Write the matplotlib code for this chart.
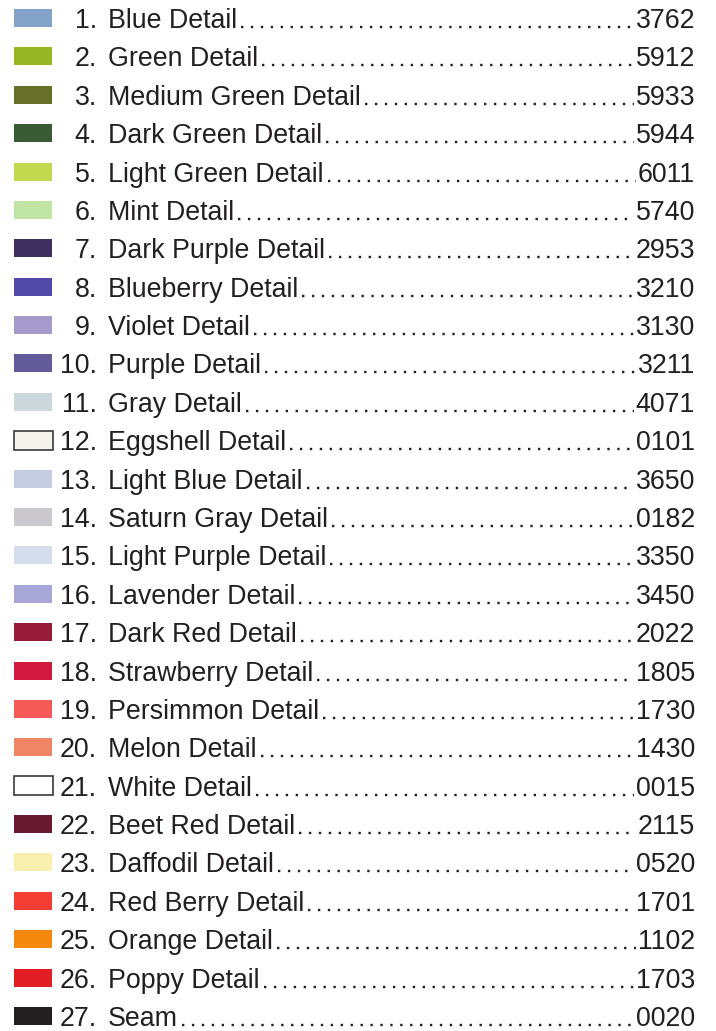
"""Color key list with swatches, names and thread codes."""

import matplotlib

matplotlib.use("Agg")

import matplotlib.pyplot as plt
from matplotlib.patches import Rectangle

names = [
    "Blue Detail", "Green Detail", "Medium Green Detail", "Dark Green Detail",
    "Light Green Detail", "Mint Detail", "Dark Purple Detail", "Blueberry Detail",
    "Violet Detail", "Purple Detail", "Gray Detail", "Eggshell Detail",
    "Light Blue Detail", "Saturn Gray Detail", "Light Purple Detail",
    "Lavender Detail", "Dark Red Detail", "Strawberry Detail", "Persimmon Detail",
    "Melon Detail", "White Detail", "Beet Red Detail", "Daffodil Detail",
    "Red Berry Detail", "Orange Detail", "Poppy Detail", "Seam",
]
codes = [
    "3762", "5912", "5933", "5944", "6011", "5740", "2953", "3210", "3130",
    "3211", "4071", "0101", "3650", "0182", "3350", "3450", "2022", "1805",
    "1730", "1430", "0015", "2115", "0520", "1701", "1102", "1703", "0020",
]
swatch_colors = [
    "#84a3c9", "#97b624", "#66702a", "#3a5a35", "#c2d94f", "#c0e4a4",
    "#3f2f60", "#5249a8", "#a59acb", "#635a9a", "#cdd8dd", "#f4f3ee",
    "#c4cce0", "#cbc8ce", "#d5dcec", "#a9a6d8", "#961c3a", "#d1193f",
    "#f65a56", "#f08466", "#ffffff", "#6a1a30", "#f8eeb0", "#f33e36",
    "#f5890f", "#e11e23", "#231f20",
]
outlined = {12, 21}

W, H = 716, 1031
TEXT = "#231f20"
FONT = ["Liberation Sans", "DejaVu Sans"]


def main() -> None:
    fig = plt.figure(figsize=(W / 100, H / 100), dpi=100)
    ax = fig.add_axes([0, 0, 1, 1])
    ax.set_xlim(0, W)
    ax.set_ylim(H, 0)
    ax.axis("off")

    pitch = (1016 - 18) / 26
    fs = 19.3
    name_texts = []
    code_texts = []
    rows = []
    for i, (name, code, color) in enumerate(zip(names, codes, swatch_colors)):
        n = i + 1
        yc = 18 + i * pitch
        rows.append(yc)
        if n in outlined:
            ax.add_patch(Rectangle((13.5, yc - 9.5), 39.5, 19, facecolor=color,
                                   edgecolor="#3a3a3a", lw=1.2))
        else:
            ax.add_patch(Rectangle((14, yc - 9), 38, 18, facecolor=color,
                                   edgecolor="none"))
        yb = yc + 10
        ax.text(97, yb, f"{n}.", ha="right", va="baseline", fontsize=fs,
                color=TEXT, family=FONT)
        name_texts.append(ax.text(108, yb, name, ha="left", va="baseline",
                                  fontsize=fs, color=TEXT, family=FONT))
        code_texts.append(ax.text(695, yb, code, ha="right", va="baseline",
                                  fontsize=fs, color=TEXT, family=FONT))

    # dot leaders between name and code
    fig.canvas.draw()
    renderer = fig.canvas.get_renderer()
    inv = ax.transData.inverted()
    for yc, nt, ct in zip(rows, name_texts, code_texts):
        x0 = inv.transform(nt.get_window_extent(renderer).p1)[0] + 4
        x1 = inv.transform(ct.get_window_extent(renderer).p0)[0] - 2
        ax.plot([x0, x1], [yc + 9, yc + 9], color=TEXT, lw=1.7,
                linestyle=(0, (1, 3.2)), dash_capstyle="butt")

    fig.savefig("out.png", dpi=100, facecolor="white")


if __name__ == "__main__":
    main()
